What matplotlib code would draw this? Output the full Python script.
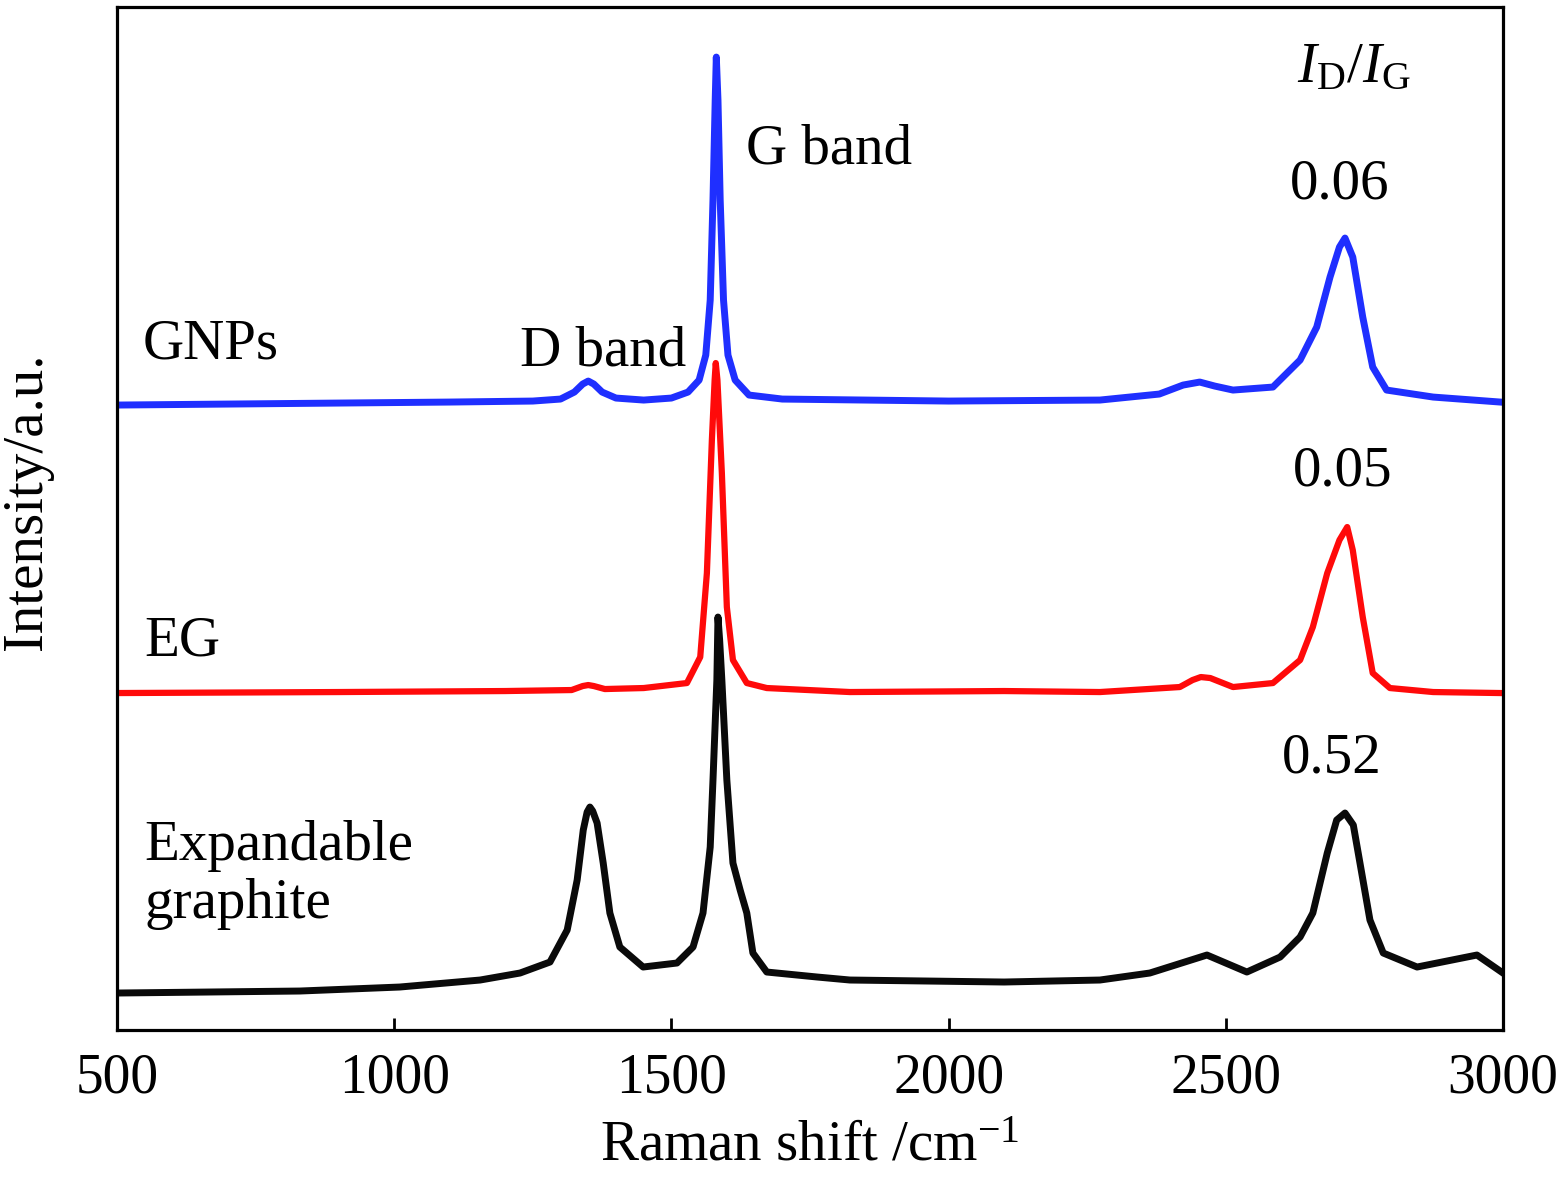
import numpy as np
import matplotlib
matplotlib.use("Agg")
import matplotlib.pyplot as plt

plt.rcParams['font.family'] = ['Liberation Serif', 'DejaVu Serif']
plt.rcParams['mathtext.fontset'] = 'custom'
plt.rcParams['mathtext.rm'] = 'Liberation Serif'
plt.rcParams['mathtext.it'] = 'Liberation Serif:italic'

# Raman spectra, stacked (intensity in arbitrary offset units)
gnp_x = [500, 700, 900, 1100, 1250, 1300, 1325, 1340, 1350, 1360, 1375, 1400, 1450,
         1500, 1530, 1550, 1562, 1570, 1575, 1579, 1581, 1584, 1588, 1594, 1602, 1615,
         1640, 1700, 2000, 2273, 2380, 2423, 2453, 2480, 2513, 2585, 2634, 2664, 2688,
         2705, 2715, 2729, 2747, 2765, 2790, 2874, 2995]
gnp_y = [625, 626, 627, 628, 629, 631, 638, 646, 649, 646, 638, 632, 630,
         632, 638, 650, 675, 730, 830, 930, 973, 930, 830, 730, 675, 650,
         635, 631, 629, 630, 636, 645, 648, 644, 640, 643, 670, 703, 753,
         783, 792, 773, 713, 663, 640, 633, 628]

eg_x = [500, 900, 1200, 1320, 1340, 1350, 1360, 1380, 1450, 1528, 1552, 1564, 1573,
        1578, 1580, 1583, 1591, 1600, 1611, 1636, 1672, 1822, 2100, 2273, 2417, 2440,
        2455, 2472, 2513, 2585, 2634, 2657, 2683, 2705, 2719, 2729, 2747, 2765, 2796,
        2874, 2995]
eg_y = [337, 338, 339, 340, 344, 345, 344, 341, 342, 347, 373, 457, 590,
        650, 667, 650, 557, 423, 370, 347, 342, 338, 339, 338, 343, 350,
        353, 352, 343, 347, 370, 403, 457, 490, 503, 480, 413, 357, 342,
        338, 337]

ega_x = [500, 830, 1010, 1155, 1227, 1281, 1312, 1330, 1341, 1348, 1353, 1358, 1366,
         1377, 1389, 1407, 1449, 1510, 1539, 1557, 1570, 1575, 1582, 1584, 1587, 1591,
         1600, 1611, 1624, 1636, 1647, 1672, 1763, 1822, 2100, 2273, 2363, 2466, 2538,
         2598, 2634, 2657, 2683, 2700, 2715, 2730, 2742, 2760, 2784, 2845, 2953, 3000]
ega_y = [37, 39, 43, 50, 57, 68, 100, 150, 200, 218, 223, 219, 207,
         167, 117, 83, 63, 67, 83, 117, 183, 250, 350, 413, 390, 350,
         250, 167, 140, 117, 77, 58, 53, 50, 48, 50, 57, 75, 58,
         73, 93, 117, 177, 210, 217, 205, 167, 110, 77, 63, 75, 57]

fig = plt.figure(figsize=(15.58, 11.8), dpi=100)
ax = fig.add_axes([0.0751, 0.1271, 0.8896, 0.8669])

ax.plot(gnp_x, gnp_y, color='#1f2fff', lw=5, solid_joinstyle='round')
ax.plot(eg_x, eg_y, color='#ff0a0a', lw=4.5, solid_joinstyle='round')
ax.plot(ega_x, ega_y, color='#0a0a0a', lw=5, solid_joinstyle='round')

ax.set_xlim(500, 3000)
ax.set_ylim(0, 1023)
ax.set_xticks([500, 1000, 1500, 2000, 2500, 3000])
ax.set_yticks([])
ax.tick_params(axis='x', direction='in', length=9, width=2, labelsize=40, pad=16)
for s in ax.spines.values():
    s.set_linewidth(2.3)

ax.set_xlabel(r"Raman shift /cm$^{\mathrm{-1}}$", fontsize=41, labelpad=12)
fig.text(0.0175, 0.575, "Intensity/a.u.", fontsize=41, rotation=90,
         ha='center', va='center')

fs = 41
ax.text(547, 672, "GNPs", fontsize=fs, va='baseline')
ax.text(1227, 665, "D band", fontsize=fs, va='baseline')
ax.text(1635, 867, "G band", fontsize=fs, va='baseline')
ax.text(550, 375, "EG", fontsize=fs, va='baseline')
ax.text(550, 170, "Expandable", fontsize=fs, va='baseline')
ax.text(550, 112, "graphite", fontsize=fs, va='baseline')
ax.text(2628, 948, r"$I_{\mathrm{D}}/I_{\mathrm{G}}$", fontsize=fs, va='baseline')
ax.text(2616, 832, "0.06", fontsize=fs, va='baseline')
ax.text(2621, 545, "0.05", fontsize=fs, va='baseline')
ax.text(2601, 258, "0.52", fontsize=fs, va='baseline')

fig.savefig("out.png", dpi=100)
